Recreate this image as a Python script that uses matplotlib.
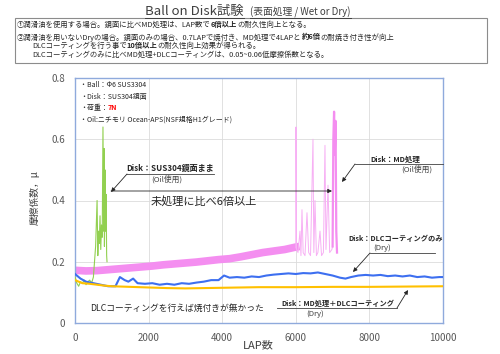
import numpy as np
import matplotlib.pyplot as plt
from matplotlib.lines import Line2D
from matplotlib.patches import Rectangle

plt.rcParams['font.family'] = ['Noto Sans CJK JP', 'DejaVu Sans']

# Disk: MD処理 (Oil) - smooth band part
md_oil_lap = [0, 300, 600, 900, 1200, 1500, 1800, 2100, 2400, 2700, 3000, 3300, 3600,
              3900, 4200, 4500, 4800, 5100, 5400, 5700, 6000, 6100]
md_oil_mu = [0.172, 0.170, 0.171, 0.174, 0.177, 0.180, 0.183, 0.186, 0.190, 0.193, 0.196,
             0.199, 0.203, 0.207, 0.210, 0.216, 0.223, 0.230, 0.235, 0.240, 0.248, 0.250]

# Disk: MD処理 (Oil) - seizure part
md_oil_end_lap = [6000, 6005, 6020, 6060, 6114, 6140, 6168, 6200, 6250, 6304, 6350, 6400,
                  6467, 6490, 6522, 6560, 6600, 6658, 6700, 6750, 6793, 6820, 6875, 6920,
                  6980, 7000]
md_oil_end_mu = [0.245, 0.64, 0.24, 0.23, 0.30, 0.22, 0.37, 0.23, 0.22, 0.36, 0.23, 0.22,
                 0.60, 0.23, 0.40, 0.22, 0.23, 0.30, 0.22, 0.23, 0.58, 0.24, 0.45, 0.23,
                 0.24, 0.25]

# Disk: MD処理 (Oil) - final seizure
md_oil_fin_lap = [7000, 7020, 7040, 7060, 7080, 7100, 7120]
md_oil_fin_mu = [0.25, 0.60, 0.69, 0.55, 0.66, 0.30, 0.23]

# Disk: SUS304鏡面まま (Oil)
sus_lap = [0, 50, 100, 150, 200, 250, 300, 350, 400, 450, 500, 530, 560, 600, 620, 640,
           660, 680, 700, 720, 740, 760, 780, 790, 800, 815, 830, 845, 860, 870]
sus_mu = [0.15, 0.13, 0.12, 0.135, 0.13, 0.14, 0.125, 0.135, 0.14, 0.13, 0.15, 0.20, 0.25,
          0.40, 0.22, 0.30, 0.26, 0.35, 0.24, 0.32, 0.28, 0.64, 0.30, 0.57, 0.25, 0.50,
          0.30, 0.42, 0.22, 0.20]

# Disk: DLCコーティングのみ (Dry)
dlc_lap = [0, 150, 300, 500, 700, 900, 1100, 1220, 1350, 1450, 1580, 1700, 1900, 2100,
           2300, 2500, 2700, 2900, 3100, 3300, 3500, 3700, 3900, 4050, 4200, 4400, 4600,
           4800, 5000, 5200, 5400, 5600, 5800, 6000, 6200, 6400, 6600, 6800, 7000, 7200,
           7350, 7500, 7700, 7900, 8100, 8300, 8500, 8700, 8900, 9100, 9300, 9500, 9700,
           9900, 10000]
dlc_mu = [0.16, 0.145, 0.135, 0.13, 0.125, 0.12, 0.12, 0.15, 0.14, 0.135, 0.145, 0.13,
          0.128, 0.13, 0.125, 0.128, 0.125, 0.13, 0.128, 0.132, 0.135, 0.14, 0.14, 0.155,
          0.148, 0.15, 0.148, 0.152, 0.15, 0.155, 0.158, 0.16, 0.162, 0.16, 0.163, 0.162,
          0.165, 0.16, 0.155, 0.148, 0.145, 0.15, 0.155, 0.157, 0.155, 0.157, 0.153, 0.155,
          0.152, 0.155, 0.15, 0.152, 0.148, 0.15, 0.15]

# Disk: MD処理+DLCコーティング (Dry)
md_dlc_lap = [0, 200, 400, 600, 800, 1000, 1500, 2000, 2500, 3000, 3500, 4000, 5000,
              6000, 7000, 8000, 9000, 10000]
md_dlc_mu = [0.14, 0.13, 0.128, 0.125, 0.122, 0.12, 0.118, 0.116, 0.114, 0.113, 0.114,
             0.115, 0.117, 0.117, 0.118, 0.118, 0.119, 0.12]

x_ticks = [0, 2000, 4000, 6000, 8000, 10000]
y_ticks = [0, 0.2, 0.4, 0.6, 0.8]

W, H = 500, 354
fig = plt.figure(figsize=(5.0, 3.54), dpi=100)
ax = fig.add_axes([75 / W, 1 - 323 / H, 368 / W, 245 / H])


def fx(px):
    return px / W


def fy(py):
    return 1 - py / H


ax.plot(md_oil_lap, md_oil_mu, color='#f48ef0', lw=5.5, solid_capstyle='butt', zorder=2)
ax.plot(md_oil_end_lap, md_oil_end_mu, color='#f7b0f4', lw=0.7, zorder=2)
ax.plot(md_oil_fin_lap, md_oil_fin_mu, color='#f48ef0', lw=1.6, zorder=2)
ax.plot(sus_lap, sus_mu, color='#92d050', lw=0.8, zorder=3)
ax.plot(dlc_lap, dlc_mu, color='#3d6ff0', lw=1.5, zorder=4)
ax.plot(md_dlc_lap, md_dlc_mu, color='#ffc000', lw=1.5, zorder=5)

ax.set_xlim(0, 10000)
ax.set_ylim(0, 0.8)
ax.set_xticks(x_ticks)
ax.set_yticks(y_ticks)
ax.set_yticklabels(['0', '0.2', '0.4', '0.6', '0.8'])
ax.tick_params(length=0, labelsize=7, labelcolor='#595959', pad=7)
ax.grid(True, color='#dcdcdc', lw=0.6)
ax.set_axisbelow(True)
for s in ax.spines.values():
    s.set_color('#8faadc')
    s.set_linewidth(1.0)

fig.text(fx(35), fy(198), '摩擦係数，μ', rotation=90, fontsize=7, color='#404040',
         ha='center', va='center')
fig.text(fx(258), fy(345), 'LAP数', fontsize=8, color='#404040', ha='center', va='center')

renderer = fig.canvas.get_renderer()


def underline(t, py, lw=0.7, color='#404040'):
    bb = t.get_window_extent(renderer)
    fig.add_artist(Line2D([bb.x0 / fig.bbox.width, bb.x1 / fig.bbox.width], [fy(py), fy(py)],
                          color=color, lw=lw))


def runs(px, py, parts, size):
    # runs of (text, bold, colour) placed one after another on a shared baseline
    x = fx(px)
    for s, bold, color in parts:
        t = fig.text(x, fy(py), s, fontsize=size, fontweight='bold' if bold else 'normal',
                     color=color, ha='left', va='baseline')
        x = t.get_window_extent(renderer).x1 / fig.bbox.width


# title
t1 = fig.text(fx(145), fy(11), 'Ball on Disk試験', fontsize=9.5, color='#404040',
              ha='left', va='center')
underline(t1, 18)
t2 = fig.text(fx(250), fy(12), '(表面処理 / Wet or Dry)', fontsize=7, color='#404040',
              ha='left', va='center')
underline(t2, 18)

# note box
fig.add_artist(Rectangle((fx(15), fy(63)), (487 - 15) / W, 45 / H, fill=False,
                         edgecolor='#8c8c8c', lw=0.8))
k = '#262626'
hs = 5.3
runs(17, 27, [('①潤滑油を使用する場合。鏡面に比べMD処理は、LAP数で', False, k),
              ('6倍以上', True, k), ('の耐久性向上となる。', False, k)], hs)
runs(17, 39.5, [('②潤滑油を用いないDryの場合。鏡面のみの場合、0.7LAPで焼付き、MD処理で4LAPと', False, k),
                ('約6倍', True, k), ('の耐焼き付き性が向上', False, k)], hs)
runs(32, 48, [('DLCコーティングを行う事で', False, k), ('10倍以上', True, k),
              ('の耐久性向上効果が得られる。', False, k)], hs)
runs(32, 57, [('DLCコーティングのみに比べMD処理+DLCコーティングは、0.05~0.06低摩擦係数となる。', False, k)], hs)

# test conditions
cs = 5.0
runs(80, 87, [('・Ball：Φ6 SUS3304', False, k)], cs)
runs(80, 99, [('・Disk：SUS304鏡面', False, k)], cs)
runs(80, 110.5, [('・荷重：', False, k), ('7N', True, '#ff0000')], cs)
runs(80, 122, [('・Oil:ニチモリ Ocean-APS(NSF規格H1グレード)', False, k)], cs)

arrow = dict(arrowstyle='-|>', color='#262626', lw=0.6, mutation_scale=6, shrinkA=0, shrinkB=0)
line_kw = dict(color='#404040', lw=0.6, clip_on=False)


def fig_line(xs, ys):
    fig.add_artist(Line2D([fx(v) for v in xs], [fy(v) for v in ys], **line_kw))


def fig_arrow(x0, y0, x1, y1):
    ax.annotate('', xy=(fx(x1), fy(y1)), xycoords='figure fraction',
                xytext=(fx(x0), fy(y0)), textcoords='figure fraction', arrowprops=arrow)


# SUS304 annotation
ta = fig.text(fx(170), fy(168.5), 'Disk：SUS304鏡面まま', fontsize=5.8, fontweight='bold',
              color=k, ha='center', va='center')
underline(ta, 174, lw=0.6)
fig.text(fx(167), fy(179), '(Oil使用)', fontsize=5.6, color='#404040', ha='center', va='center')
fig_arrow(127, 174, 111, 192)
fig_arrow(111, 191, 332, 191)
fig.text(fx(204), fy(201), '未処理に比べ6倍以上', fontsize=8, color=k, ha='center', va='center')

# MD annotation
fig.text(fx(420), fy(159.5), 'Disk：MD処理', fontsize=5.4, fontweight='bold', color=k,
         ha='right', va='center')
fig.text(fx(432), fy(169), '(Oil使用)', fontsize=5.6, color='#404040', ha='right', va='center')
fig_line([443, 355], [164, 164])
fig_arrow(355, 164, 342, 182)

# DLC only annotation
fig.text(fx(443), fy(238), 'Disk：DLCコーティングのみ', fontsize=5.2, fontweight='bold',
         color=k, ha='right', va='center')
fig.text(fx(382), fy(247.5), '(Dry)', fontsize=5.6, color='#404040', ha='center', va='center')
fig_line([435, 370], [253, 253])
fig_arrow(370, 253, 353, 272)

# MD + DLC annotation
fig.text(fx(338), fy(303.5), 'Disk：MD処理＋DLCコーティング', fontsize=5.2,
         fontweight='bold', color=k, ha='center', va='center')
fig_line([277, 397], [308, 308])
fig_arrow(397, 308, 408, 290)
fig.text(fx(315), fy(314), '(Dry)', fontsize=5.6, color='#404040', ha='center', va='center')

fig.text(fx(90), fy(308), 'DLCコーティングを行えば焼付きが無かった', fontsize=6.3, color=k,
         ha='left', va='center')

fig.savefig('out.png', dpi=100)
